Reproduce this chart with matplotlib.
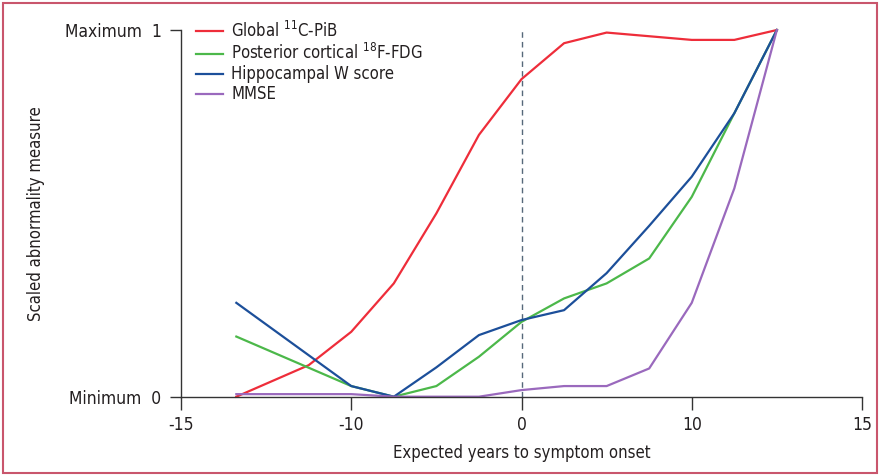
import matplotlib.pyplot as plt
from matplotlib.patches import Rectangle
from matplotlib import font_manager

# ---- data ----
years_pib = [-16.75, -12.5, -10, -7.5, -5, -2.5, 0, 2.5, 5, 7.5, 10, 12.5, 15]
pib = [0.0, 0.086, 0.177, 0.309, 0.50, 0.714, 0.866, 0.964, 0.993, 0.983, 0.973, 0.973, 1.0]

years = [-16.75, -10, -7.5, -5, -2.5, 0, 2.5, 5, 7.5, 10, 12.5, 15]
fdg = [0.164, 0.029, 0.0, 0.029, 0.109, 0.204, 0.268, 0.309, 0.377, 0.545, 0.773, 1.0]
hippo = [0.256, 0.029, 0.0, 0.08, 0.168, 0.209, 0.236, 0.337, 0.466, 0.600, 0.773, 1.0]
mmse = [0.007, 0.007, 0.0, 0.0, 0.0, 0.018, 0.029, 0.029, 0.077, 0.256, 0.568, 1.0]

xtick_pos = [-20, -10, 0, 10, 20]
xtick_labels = ["-15", "-10", "0", "10", "15"]
ytick_labels = ["Minimum  0", "Maximum  1"]

# look for a condensed sans, else fall back to Liberation Sans
family, stretch = "Liberation Sans", "normal"
for f in font_manager.fontManager.ttflist:
    if ("Narrow" in f.name or "Condensed" in f.name or f.stretch in ("condensed", "semi-condensed")) \
            and "Mono" not in f.name and "Serif" not in f.name:
        family, stretch = f.name, f.stretch
        break
plt.rcParams["font.family"] = [family, "DejaVu Sans"]
plt.rcParams["font.stretch"] = stretch
plt.rcParams["mathtext.fontset"] = "custom"
plt.rcParams["mathtext.rm"] = family
plt.rcParams["mathtext.it"] = family

txt = "#231f20"

fig = plt.figure(figsize=(8.8, 4.76), dpi=100)
ax = fig.add_axes([181 / 880, 1 - 396.7 / 476, 681 / 880, 366.7 / 476])

ax.plot(years_pib, pib, color="#ee2d3a", lw=1.6, label=r"Global $^{11}$C-PiB")
ax.plot(years, fdg, color="#4cb84a", lw=1.6, label=r"Posterior cortical $^{18}$F-FDG")
ax.plot(years, hippo, color="#1c4f9a", lw=1.6, label="Hippocampal W score")
ax.plot(years, mmse, color="#9a69bd", lw=1.6, label="MMSE")

ax.axvline(0, color="#56687a", lw=1, ls=(0, (4, 3)), zorder=0)

ax.set_xlim(-20, 20)
ax.set_ylim(0, 1)
ax.set_xticks(xtick_pos)
ax.set_xticklabels(xtick_labels)
ax.set_yticks([0, 1])
ax.set_yticklabels(ytick_labels)

for s in ("top", "right"):
    ax.spines[s].set_visible(False)
for s in ("left", "bottom"):
    ax.spines[s].set_color("#333333")
    ax.spines[s].set_linewidth(1.0)

ax.tick_params(axis="x", direction="out", length=9, width=1, colors="#333333",
               labelcolor=txt, labelsize=12.5, pad=5)
ax.tick_params(axis="y", direction="out", length=8, width=1, colors="#333333",
               labelcolor=txt, labelsize=12.5, pad=6)

ax.set_xlabel("Expected years to symptom onset", fontsize=12, color=txt, labelpad=7)
ax.set_ylabel("Scaled abnormality measure", fontsize=12, color=txt)
ax.yaxis.set_label_coords(-0.2, 0.5)

for line in ax.get_lines():
    line.set_clip_on(False)

leg = ax.legend(loc="upper left", bbox_to_anchor=(0.0, 1.065), frameon=False,
                fontsize=12, handlelength=1.6, handletextpad=0.5,
                labelspacing=0.12, labelcolor=txt)

# pink frame around the whole picture
fig.patches.append(Rectangle((3 / 880, 3 / 476), 874 / 880, 470 / 476,
                             transform=fig.transFigure, fill=False,
                             edgecolor="#c9566c", lw=1.5))

fig.savefig("out.png", dpi=100)
